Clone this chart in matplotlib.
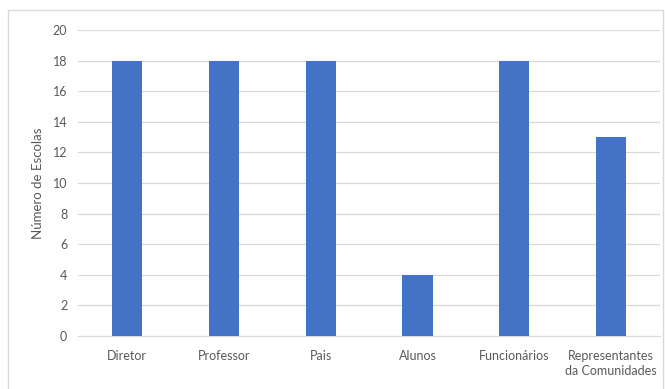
import matplotlib
matplotlib.use("Agg")
import matplotlib.pyplot as plt
from matplotlib.patches import Rectangle

categories = ["Diretor", "Professor", "Pais", "Alunos", "Funcionários", "Representantes\nda Comunidades"]
values = [18, 18, 18, 4, 18, 13]
yticks = [0, 2, 4, 6, 8, 10, 12, 14, 16, 18, 20]

plt.rcParams['font.family'] = ['Lato', 'DejaVu Sans']
fig = plt.figure(figsize=(6.65, 3.89), dpi=100)
ax = fig.add_axes([0.118, 0.136, 0.874, 0.787])

x = list(range(len(categories)))
ax.bar(x, values, width=0.31, color="#4472C4", zorder=3)
ax.set_xlim(-0.5, len(categories) - 0.5)
ax.set_ylim(0, 20)
ax.set_yticks(yticks)
ax.set_xticks(x)
ax.set_xticklabels(categories, linespacing=1.35)
ax.grid(axis='y', color='#D9D9D9', linewidth=0.9, zorder=0)
for s in ['top', 'right', 'left']:
    ax.spines[s].set_visible(False)
ax.spines['bottom'].set_color('#D9D9D9')
ax.tick_params(axis='both', length=0, colors='#595959', labelsize=9)
ax.tick_params(axis='x', pad=10)
ax.tick_params(axis='y', pad=8)
ax.set_ylabel("Número de Escolas", color='#595959', fontsize=9.5, labelpad=6)

fig.patches.append(Rectangle((8/665, -0.01), 656/665 - 0.002, 1 - 10/389 + 0.01,
                             transform=fig.transFigure, fill=False,
                             edgecolor='#D9D9D9', linewidth=1))
fig.savefig("out.png", dpi=100)
